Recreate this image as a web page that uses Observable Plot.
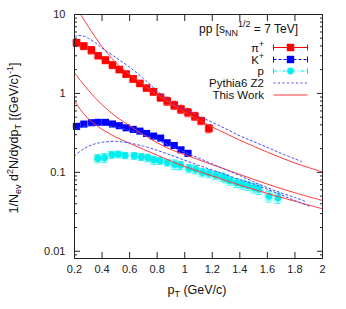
<!DOCTYPE html>
<html><head><meta charset="utf-8">
<script src="https://cdn.jsdelivr.net/npm/d3@7"></script>
<script src="https://cdn.jsdelivr.net/npm/@observablehq/plot@0.6"></script>
<style>body{margin:0;background:#fff}svg{font-family:"Liberation Sans",Arial,sans-serif}</style>
</head><body><div id="chart"></div>
<script>
// ---- ticks ----
const xTicks = [0.2, 0.4, 0.6, 0.8, 1, 1.2, 1.4, 1.6, 1.8, 2];
const xTickLabels = ["0.2", "0.4", "0.6", "0.8", "1", "1.2", "1.4", "1.6", "1.8", "2"];
const yTicks = [0.01, 0.1, 1, 10];
const yTickLabels = ["0.01", "0.1", "1", "10"];
const yMinorTicks = [0.009, 0.02, 0.03, 0.04, 0.05, 0.06, 0.07, 0.08, 0.09, 0.2, 0.3, 0.4, 0.5, 0.6, 0.7, 0.8, 0.9, 2, 3, 4, 5, 6, 7, 8, 9];

// ---- pi+ data ----
const piPt  = [0.215, 0.268, 0.323, 0.372, 0.425, 0.476, 0.525, 0.575, 0.626, 0.675, 0.723, 0.774, 0.825, 0.873, 0.924, 0.973, 1.024, 1.074, 1.12, 1.176];
const piVal = [4.39, 3.98, 3.54, 3.0, 2.64, 2.29, 2.01, 1.76, 1.53, 1.34, 1.17, 1.05, 0.89, 0.80, 0.71, 0.632, 0.574, 0.515, 0.45, 0.36];
const piErr = [0.10, 0.10, 0.11, 0.07, 0.10, 0.10, 0.09, 0.09, 0.10, 0.09, 0.08, 0.10, 0.11, 0.12, 0.12, 0.12, 0.12, 0.12, 0.11, 0.12];
// ---- K+ data ----
const kPt  = [0.215, 0.268, 0.323, 0.372, 0.425, 0.476, 0.525, 0.575, 0.626, 0.675, 0.723, 0.774, 0.825, 0.873, 0.924, 0.973, 1.024];
const kVal = [0.382, 0.409, 0.425, 0.43, 0.43, 0.41, 0.39, 0.367, 0.35, 0.333, 0.311, 0.288, 0.272, 0.237, 0.219, 0.193, 0.174];
const kErr = [0.07, 0.06, 0.06, 0.05, 0.05, 0.06, 0.05, 0.05, 0.05, 0.05, 0.05, 0.05, 0.05, 0.05, 0.05, 0.05, 0.05];
// ---- p data ----
const pPt  = [0.369, 0.418, 0.471, 0.518, 0.568, 0.634, 0.685, 0.733, 0.776, 0.82, 0.874, 0.927, 0.970, 1.031, 1.079, 1.128, 1.176, 1.225, 1.273, 1.297, 1.329, 1.377, 1.419, 1.459, 1.503, 1.539, 1.612, 1.677];
const pVal = [0.150, 0.153, 0.167, 0.169, 0.164, 0.162, 0.157, 0.153, 0.143, 0.140, 0.133, 0.126, 0.123, 0.112, 0.109, 0.0997, 0.097, 0.092, 0.0877, 0.0837, 0.0782, 0.0736, 0.0703, 0.0675, 0.0636, 0.0607, 0.0499, 0.0475];
const pErr = [0.12, 0.13, 0.10, 0.10, 0.09, 0.10, 0.10, 0.11, 0.12, 0.10, 0.10, 0.14, 0.12, 0.12, 0.12, 0.12, 0.12, 0.12, 0.12, 0.12, 0.12, 0.13, 0.13, 0.13, 0.14, 0.14, 0.16, 0.15];

// ---- "This Work" curves ----
const twPiX = [0.245, 0.3, 0.35, 0.4, 0.45, 0.5, 0.6, 0.7, 0.8, 0.9, 1.0, 1.1, 1.2, 1.3, 1.4, 1.5, 1.6, 1.7, 1.8, 1.9, 2.0];
const twPiY = [10, 7.0, 5.2, 3.9, 3.1, 2.45, 1.75, 1.29, 0.96, 0.745, 0.58, 0.465, 0.375, 0.31, 0.255, 0.214, 0.18, 0.153, 0.131, 0.115, 0.101];
const twKX = [0.2, 0.25, 0.3, 0.35, 0.4, 0.45, 0.5, 0.6, 0.7, 0.8, 0.9, 1.0, 1.2, 1.4, 1.6, 1.8, 2.0];
const twKY = [1.84, 1.4, 1.1, 0.88, 0.72, 0.6, 0.51, 0.39, 0.3, 0.237, 0.195, 0.168, 0.125, 0.094, 0.071, 0.055, 0.044];
const twPX = [0.2, 0.25, 0.3, 0.35, 0.4, 0.5, 0.6, 0.7, 0.8, 0.9, 1.0, 1.2, 1.4, 1.6, 1.8, 2.0];
const twPY = [0.81, 0.6, 0.48, 0.405, 0.35, 0.28, 0.233, 0.196, 0.165, 0.139, 0.119, 0.09, 0.069, 0.054, 0.043, 0.0345];

// ---- Pythia6 Z2 curves ----
const pyPiX = [0.2, 0.25, 0.3, 0.35, 0.4, 0.5, 0.6, 0.7, 0.8, 0.9, 1.0, 1.1, 1.2, 1.3, 1.4, 1.5, 1.6, 1.7, 1.8, 1.85];
const pyPiY = [5.3, 5.4, 5.0, 4.4, 3.75, 2.85, 2.15, 1.55, 1.08, 0.78, 0.63, 0.52, 0.43, 0.355, 0.29, 0.245, 0.207, 0.174, 0.148, 0.136];
const pyKX = [0.2, 0.3, 0.4, 0.5, 0.6, 0.7, 0.8, 0.9, 1.0, 1.1, 1.2, 1.3, 1.4, 1.5, 1.6, 1.7, 1.8, 1.88];
const pyKY = [0.35, 0.39, 0.395, 0.375, 0.34, 0.3, 0.255, 0.215, 0.18, 0.152, 0.128, 0.108, 0.091, 0.076, 0.064, 0.055, 0.048, 0.0425];
const pyPX = [0.2, 0.25, 0.3, 0.35, 0.4, 0.5, 0.6, 0.7, 0.8, 0.9, 1.0, 1.1, 1.2, 1.3, 1.4, 1.5, 1.6, 1.7, 1.8, 1.915];
const pyPY = [0.16, 0.19, 0.213, 0.23, 0.24, 0.247, 0.235, 0.215, 0.19, 0.165, 0.142, 0.123, 0.107, 0.093, 0.081, 0.071, 0.061, 0.052, 0.044, 0.0365];

// ---- legend ----
const legendLabels = [["π", "+"], ["K", "+"], ["p", ""], ["Pythia6 Z2", ""], ["This Work", ""]];

const rows = (xs, ys, es) => xs.map((x, i) => ({x, y: ys[i], e: es ? es[i] : 0}));
const pi = rows(piPt, piVal, piErr), ka = rows(kPt, kVal, kErr), pr = rows(pPt, pVal, pErr);

const RED = "#ff0000", BLUE = "#0000ff", CYAN = "#00eeee";
const LINE_RED = "#ff3b3b", DOT_BLUE = "#4a4aff";
const xMap = new Map(xTicks.map((d, i) => [d, xTickLabels[i]]));
const yMap = new Map(yTicks.map((d, i) => [d, yTickLabels[i]]));

function points(data, color, symbol, r, haloOp) {
  return [
    Plot.rect(data, {x1: d => d.x - 0.03, x2: d => d.x + 0.03, y1: d => d.y * (1 - d.e * 0.9), y2: d => d.y * (1 + d.e * 0.9), fill: color, fillOpacity: haloOp}),
    Plot.ruleX(data, {x: "x", y1: d => d.y * (1 - d.e), y2: d => d.y * (1 + d.e), stroke: color, strokeOpacity: 0.75, strokeWidth: 1}),
    Plot.ruleY(data, {y: d => d.y * (1 - d.e), x1: d => d.x - 0.022, x2: d => d.x + 0.022, stroke: color, strokeOpacity: 0.75}),
    Plot.ruleY(data, {y: d => d.y * (1 + d.e), x1: d => d.x - 0.022, x2: d => d.x + 0.022, stroke: color, strokeOpacity: 0.75}),
    Plot.dot(data, {x: "x", y: "y", symbol, r, fill: color, stroke: null})
  ];
}

const svg = Plot.plot({
  width: 346, height: 309,
  marginLeft: 74, marginRight: 24, marginTop: 14, marginBottom: 51,
  style: {fontFamily: "Liberation Sans, Arial, sans-serif", background: "white"},
  x: {type: "linear", domain: [0.2, 2], label: null},
  y: {type: "log", domain: [0.0081, 10], label: null},
  marks: [
    ...points(pr, CYAN, "circle", 3.4, 0.3),
    ...points(ka, BLUE, "square", 4.0, 0.2),
    ...points(pi, RED, "square", 4.2, 0.22),
    Plot.line(rows(twPiX, twPiY), {x: "x", y: "y", stroke: LINE_RED, strokeWidth: 1, curve: "catmull-rom", clip: true}),
    Plot.line(rows(twKX, twKY), {x: "x", y: "y", stroke: LINE_RED, strokeWidth: 1, curve: "catmull-rom", clip: true}),
    Plot.line(rows(twPX, twPY), {x: "x", y: "y", stroke: LINE_RED, strokeWidth: 1, curve: "catmull-rom", clip: true}),
    Plot.line(rows(pyPiX, pyPiY), {x: "x", y: "y", stroke: DOT_BLUE, strokeWidth: 1, strokeDasharray: "2,2.5", curve: "catmull-rom", clip: true}),
    Plot.line(rows(pyKX, pyKY), {x: "x", y: "y", stroke: DOT_BLUE, strokeWidth: 1, strokeDasharray: "2,2.5", curve: "catmull-rom", clip: true}),
    Plot.line(rows(pyPX, pyPY), {x: "x", y: "y", stroke: DOT_BLUE, strokeWidth: 1, strokeDasharray: "2,2.5", curve: "catmull-rom", clip: true}),
    Plot.frame({stroke: "#222"}),
    Plot.axisX(xTicks, {anchor: "bottom", label: null, tickSize: -6, tickPadding: 13, tickFormat: d => xMap.get(d), fontSize: 11, color: "#222"}),
    Plot.axisX(xTicks, {anchor: "top", label: null, tickSize: -6, tickFormat: () => "", color: "#222"}),
    Plot.axisY(yTicks, {anchor: "left", label: null, tickSize: -6, tickPadding: 15, tickFormat: d => yMap.get(d), fontSize: 11, color: "#222"}),
    Plot.axisY(yTicks, {anchor: "right", label: null, tickSize: -6, tickFormat: () => "", color: "#222"}),
    Plot.axisY(yMinorTicks, {anchor: "left", label: null, tickSize: -3, tickFormat: () => "", color: "#222"}),
    Plot.axisY(yMinorTicks, {anchor: "right", label: null, tickSize: -3, tickFormat: () => "", color: "#222"})
  ]
});

const s = d3.select(svg);
const fam = "Liberation Sans, Arial, sans-serif";
// axis titles
const xt = s.append("text").attr("x", 197).attr("y", 294).attr("text-anchor", "middle")
  .attr("font-size", 12.5).attr("font-family", fam).attr("fill", "#111");
xt.append("tspan").text("p");
xt.append("tspan").attr("font-size", 9).attr("dy", 3).text("T");
xt.append("tspan").attr("dy", -3).text(" (GeV/c)");

const yt = s.append("text").attr("transform", "translate(18,138) rotate(-90)").attr("text-anchor", "middle")
  .attr("font-size", 12.5).attr("font-family", fam).attr("fill", "#111");
yt.append("tspan").text("1/N");
yt.append("tspan").attr("font-size", 9).attr("dy", 3).text("ev");
yt.append("tspan").attr("dy", -3).text(" d");
yt.append("tspan").attr("font-size", 9).attr("dy", -5).text("2");
yt.append("tspan").attr("dy", 5).text("N/dydp");
yt.append("tspan").attr("font-size", 9).attr("dy", 3).text("T");
yt.append("tspan").attr("dy", -3).text(" [(GeV/c)");
yt.append("tspan").attr("font-size", 9).attr("dy", -5).text("-1");
yt.append("tspan").attr("dy", 5).text("]");

// legend header
const ht = s.append("text").attr("x", 298).attr("y", 33).attr("text-anchor", "end")
  .attr("font-size", 12).attr("font-family", fam).attr("fill", "#111");
ht.append("tspan").text("pp [s");
ht.append("tspan").attr("font-size", 9).attr("dy", 3).text("NN");
ht.append("tspan").attr("font-size", 9).attr("dy", -9).text("1/2");
ht.append("tspan").attr("dy", 6).text(" = 7 TeV]");

const rowY = [47.5, 59.5, 71, 83, 95];
const styles = [
  {stroke: RED, dash: null, caps: true, sym: "sq", fill: RED},
  {stroke: BLUE, dash: "3,2", caps: true, sym: "sq", fill: BLUE},
  {stroke: CYAN, dash: "4,2,1,2", caps: true, sym: "ci", fill: CYAN},
  {stroke: DOT_BLUE, dash: "2,2.5", caps: false},
  {stroke: LINE_RED, dash: null, caps: false}
];
const lg = s.append("g").attr("font-family", fam).attr("font-size", 11.5).attr("fill", "#111");
legendLabels.forEach((lab, i) => {
  const y = rowY[i], st = styles[i];
  const t = lg.append("text").attr("x", 264).attr("y", y + 4).attr("text-anchor", "end");
  t.append("tspan").text(lab[0]);
  if (lab[1]) t.append("tspan").attr("font-size", 8.5).attr("dy", -5).text(lab[1]);
  lg.append("line").attr("x1", 273.5).attr("x2", 307.5).attr("y1", y).attr("y2", y)
    .attr("stroke", st.stroke).attr("stroke-width", 1).attr("stroke-dasharray", st.dash);
  if (st.caps) {
    [273.5, 307.5].forEach(cx => lg.append("line").attr("x1", cx).attr("x2", cx).attr("y1", y - 3).attr("y2", y + 3).attr("stroke", st.stroke));
    if (st.sym === "sq") lg.append("rect").attr("x", 290.5 - 3.7).attr("y", y - 3.7).attr("width", 7.4).attr("height", 7.4).attr("fill", st.fill);
    else lg.append("circle").attr("cx", 290.5).attr("cy", y).attr("r", 3.4).attr("fill", st.fill);
  }
});

document.getElementById("chart").appendChild(svg);
</script></body></html>
